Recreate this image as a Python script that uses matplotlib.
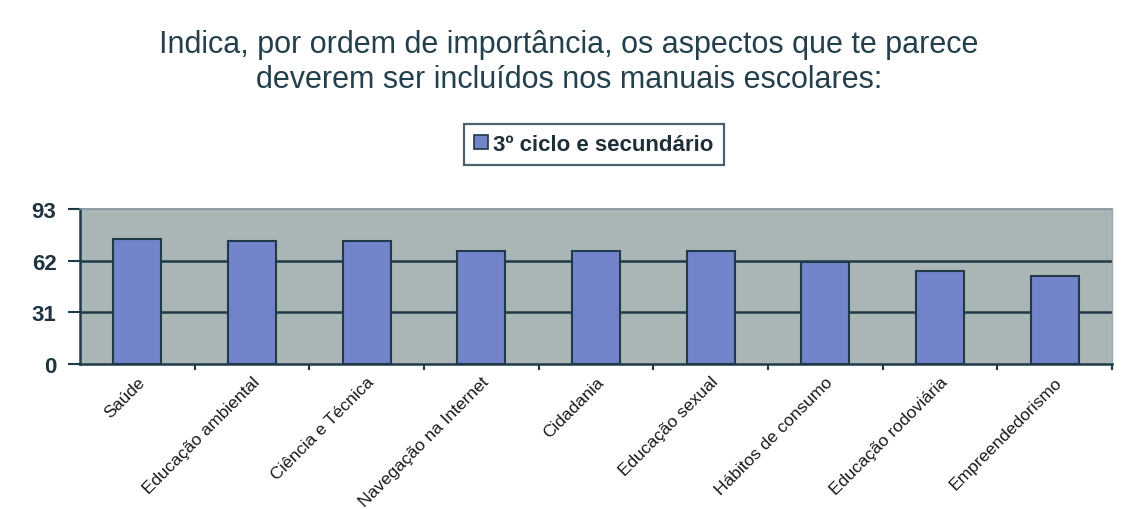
import matplotlib
matplotlib.use("Agg")
import matplotlib.pyplot as plt
import matplotlib.transforms as mtransforms
from matplotlib.patches import Patch

categories = ["Saúde", "Educação ambiental", "Ciência e Técnica", "Navegação na Internet",
              "Cidadania", "Educação sexual", "Hábitos de consumo", "Educação rodoviária",
              "Empreendedorismo"]
values = [75, 74, 74, 68, 68, 68, 61, 56, 53]
yticks = [0, 31, 62, 93]
series_name = "3º ciclo e secundário"
title = "Indica, por ordem de importância, os aspectos que te parece\ndeverem ser incluídos nos manuais escolares:"

dark = "#1f3a48"
fig = plt.figure(figsize=(11.26, 5.10), dpi=100)
ax = fig.add_axes([80/1126, 1-365/510, (1112-80)/1126, (365-210)/510])
ax.set_facecolor("#aab5b6")
x = list(range(len(categories)))
ax.bar(x, values, width=0.42, color="#7383c9", edgecolor=dark, linewidth=1.5, zorder=3)
ax.set_xlim(-0.5, len(categories)-0.5)
ax.set_ylim(0, 93)
ax.set_yticks(yticks)
ax.set_yticklabels([str(v) for v in yticks], fontsize=16, color="#1f3440",
                   family="Liberation Sans", weight="bold")
for y in yticks[1:3]:
    ax.axhline(y, color=dark, linewidth=1.8, zorder=2)
ax.set_xticks([i + 0.5 for i in range(len(categories)-1)] + [len(categories)-0.5], minor=False)
ax.set_xticklabels([])
ax.set_xticks(x, minor=True)
ax.set_xticklabels(categories, minor=True, rotation=45, ha="right", rotation_mode="anchor",
                   fontsize=12.5, family="Liberation Sans", color="#1a1a1a")
offset = mtransforms.ScaledTranslation(-7/100, 2/100, fig.dpi_scale_trans)
for lbl in ax.get_xticklabels(minor=True):
    lbl.set_transform(lbl.get_transform() + offset)
ax.tick_params(axis="x", which="minor", length=0, pad=7)
ax.tick_params(axis="x", which="major", length=4, width=1.5, color=dark, direction="out")
ax.tick_params(axis="y", length=9, width=1.5, color=dark, direction="out", pad=8)
for s in ["left", "bottom"]:
    ax.spines[s].set_color(dark)
    ax.spines[s].set_linewidth(1.8)
ax.spines["top"].set_color("#7a9098")
ax.spines["top"].set_linewidth(1.2)
ax.spines["right"].set_color("#9aa8aa")
ax.spines["right"].set_linewidth(1.0)

fig.text(569/1126, 1-62.5/510, title, ha="center", va="center", fontsize=22,
         family="Liberation Sans", color="#24404c", linespacing=1.18)

leg = fig.legend(handles=[Patch(facecolor="#7383c9", edgecolor=dark, linewidth=1.2, label=series_name)],
                 loc="center", bbox_to_anchor=(594/1126, 1-145.5/510), frameon=True,
                 fancybox=False, edgecolor=dark, handlelength=0.6, handleheight=0.6,
                 handletextpad=0.25, borderpad=0.45,
                 prop={"family": "Liberation Sans", "size": 16, "weight": "bold"})
leg.get_frame().set_linewidth(1.6)
for t in leg.get_texts():
    t.set_color("#1f2f38")

fig.savefig("out.png", dpi=100, facecolor="white")
